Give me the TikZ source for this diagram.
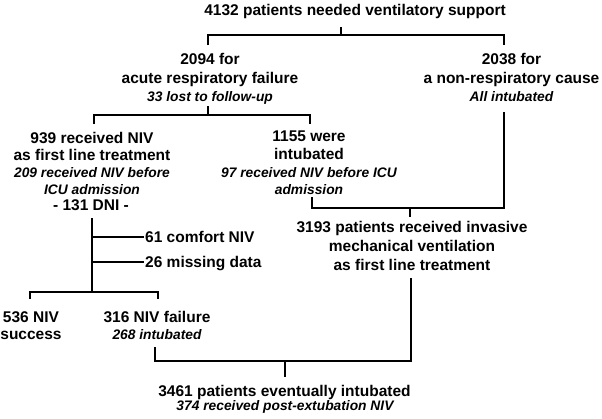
\documentclass[tikz,border=0pt]{standalone}
\usepackage{fontspec}
\setmainfont{Liberation Sans}
\begin{document}
\begin{tikzpicture}[x=1pt,y=-1pt,
  bt/.style={font=\fontsize{15.5}{18}\selectfont\bfseries, inner sep=0pt, anchor=base},
  it/.style={font=\fontsize{13.8}{17}\selectfont\bfseries\itshape, inner sep=0pt, anchor=base},
  ln/.style={line width=1.4pt, draw=black}]
\useasboundingbox (0,0) rectangle (602,418);
% texts
\node[bt] (top) at (355,15.5) {4132 patients needed ventilatory support};
\node[bt] (arfA) at (210,64.5) {2094 for};
\node[bt] (arfB) at (210,83.5) {acute respiratory failure};
\node[it] (arfC) at (210,101) {33 lost to follow-up};
\node[bt] (nrA) at (511.5,64.5) {2038 for};
\node[bt] (nrB) at (511.5,83.5) {a non-respiratory cause};
\node[it] (nrC) at (511.5,101) {All intubated};
\node[bt] (nivA) at (92,143.5) {939 received NIV};
\node[bt] (nivB) at (92,160.5) {as first line treatment};
\node[it] (nivC) at (92,177) {209 received NIV before};
\node[it] (nivD) at (92,194) {ICU admission};
\node[bt] (nivE) at (91,210.5) {- 131 DNI -};
\node[bt] (intA) at (309,141.5) {1155 were};
\node[bt] (intB) at (309,159.5) {intubated};
\node[it] (intC) at (309,177) {97 received NIV before ICU};
\node[it] (intD) at (309,194) {admission};
\node[bt] (imvA) at (412,232.5) {3193 patients received invasive};
\node[bt] (imvB) at (412,251.5) {mechanical ventilation};
\node[bt] (imvC) at (412,270.5) {as first line treatment};
\node[bt, anchor=base west] (comf) at (145,242.5) {61 comfort NIV};
\node[bt, anchor=base west] (miss) at (145,267.5) {26 missing data};
\node[bt] (sucA) at (31,322.5) {536 NIV};
\node[bt] (sucB) at (31,339.5) {success};
\node[bt] (failA) at (157,322.5) {316 NIV failure};
\node[it] (failB) at (157,339) {268 intubated};
\node[bt] (evA) at (284.5,396) {3461 patients eventually intubated};
\node[it] (evB) at (285,410.5) {374 received post-extubation NIV};
% connector points
\coordinate (t0) at (341,27);
\coordinate (t1) at (341,35);
\coordinate (a0) at (208,45);
\coordinate (r0) at (504,45);
\coordinate (a1) at (208,106);
\coordinate (a2) at (208,115);
\coordinate (n0) at (94,124);
\coordinate (i0) at (310,124);
\coordinate (r1) at (504,112);
\coordinate (i1) at (312,197);
\coordinate (m0) at (410,208);
\coordinate (m1) at (410,217);
\coordinate (v0) at (92,218);
\coordinate (v1) at (92,292);
\coordinate (s0) at (30,299);
\coordinate (f0) at (158,299);
\coordinate (cb) at (92,237);
\coordinate (ce) at (144,237);
\coordinate (mb) at (92,262);
\coordinate (me) at (144,262);
\coordinate (m2) at (411,278);
\coordinate (f1) at (155,347);
\coordinate (e0) at (285,361);
\coordinate (e1) at (285,377);
% connectors
\draw[ln] (t0) -- (t1);
\draw[ln] (a0) |- (t1) -| (r0);
\draw[ln] (a1) -- (a2);
\draw[ln] (n0) |- (a2) -| (i0);
\draw[ln] (i1) |- (m0) -| (r1);
\draw[ln] (m0) -- (m1);
\draw[ln] (v0) -- (v1);
\draw[ln] (cb) -- (ce);
\draw[ln] (mb) -- (me);
\draw[ln] (s0) |- (v1) -| (f0);
\draw[ln] (f1) |- (e0) -| (m2);
\draw[ln] (e0) -- (e1);
\end{tikzpicture}
\end{document}
